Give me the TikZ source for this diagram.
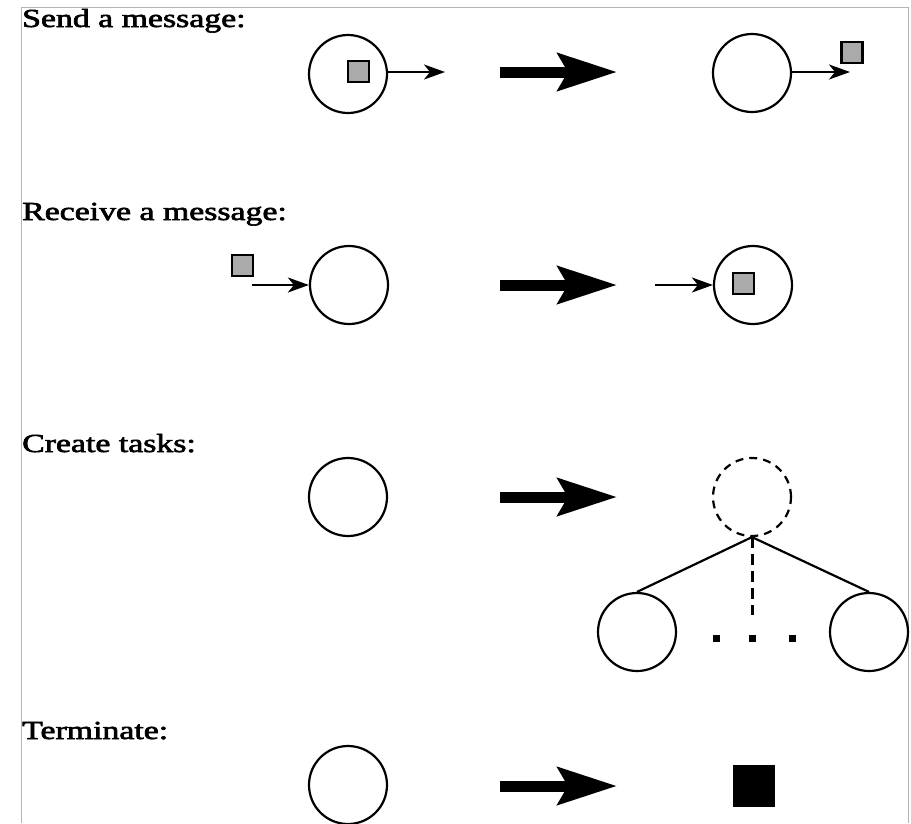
\documentclass[tikz,border=0pt]{standalone}
\usepackage{fontspec}
\newfontfamily\labfont[FakeBold=2.2]{Liberation Serif}
\usetikzlibrary{arrows.meta}
\definecolor{msggray}{HTML}{AAAAAA}
\definecolor{framegray}{HTML}{B4B4B4}
\tikzset{
  proc/.style={circle, draw, line width=2.2pt, minimum size=78pt, inner sep=0pt},
  dproc/.style={proc, dash pattern=on 8pt off 6pt},
  msg/.style={rectangle, draw, line width=2.2pt, fill=msggray, minimum size=21pt, inner sep=0pt},
  done/.style={rectangle, fill=black, minimum size=42pt, inner sep=0pt},
  dotmark/.style={rectangle, fill=black, minimum size=7pt, inner sep=0pt},
  sendarrow/.style={line width=2.2pt, -{Stealth[length=21pt, width=15pt, inset=6pt]}},
  bigarrow/.style={line width=11pt, -{Stealth[length=59pt, width=37pt, inset=10pt]}},
  spawn/.style={line width=2.2pt},
  title/.style={anchor=base west, inner sep=0pt, font=\labfont\fontsize{26}{30}\selectfont},
  frame/.style={draw=framegray, line width=1pt}
}
\begin{document}
\begin{tikzpicture}[x=1pt, y=-1pt]
\useasboundingbox (0,0) rectangle (911,823);
\draw[frame] (21,823) -- (21,7) -- (908,7) -- (908,823);

% Send a message
\node[title] (t1) at (22,27) {\scalebox{1.3}[1]{Send a message:}};
\node[proc] (s1) at (348,74) {};
\node[msg] (m1) at (358.5,71.5) {};
\coordinate (s1e) at (445,72);
\draw[sendarrow] (s1.east |- s1e) -- (s1e);
\coordinate (b1a) at (500,72);
\coordinate (b1b) at (617,72);
\draw[bigarrow] (b1a) -- (b1b);
\node[proc] (s2) at (752,73) {};
\coordinate (s2e) at (850,72);
\draw[sendarrow] (s2.east |- s2e) -- (s2e);
\node[msg] (m2) at (852,52.5) {};

% Receive a message
\node[title] (t2) at (22,220) {\scalebox{1.3}[1]{Receive a message:}};
\node[msg] (m3) at (242.5,265.5) {};
\coordinate (r1s) at (252,285);
\node[proc] (r1) at (349,285) {};
\draw[sendarrow] (r1s) -- (r1.west);
\coordinate (b2a) at (500,285);
\coordinate (b2b) at (617,285);
\draw[bigarrow] (b2a) -- (b2b);
\coordinate (r2s) at (655,285);
\node[proc] (r2) at (753,285) {};
\draw[sendarrow] (r2s) -- (r2.west);
\node[msg] (m4) at (743.5,283.5) {};

% Create tasks
\node[title] (t3) at (22,452) {\scalebox{1.3}[1]{Create tasks:}};
\node[proc] (c1) at (348,497) {};
\coordinate (b3a) at (500,497);
\coordinate (b3b) at (617,497);
\draw[bigarrow] (b3a) -- (b3b);
\node[dproc] (c2) at (752,497) {};
\node[proc] (k1) at (637,632) {};
\node[proc] (k2) at (869,632) {};
\draw[spawn] (c2.south) -- (k1.north);
\draw[spawn] (c2.south) -- (k2.north);
\coordinate (kd) at (752,615);
\draw[spawn, line width=3pt, dash pattern=on 11pt off 6pt] (c2.south) -- (kd);
\node[dotmark] (d1) at (716,638) {};
\node[dotmark] (d2) at (752,638) {};
\node[dotmark] (d3) at (792,638) {};

% Terminate
\node[title] (t4) at (22,739) {\scalebox{1.3}[1]{Terminate:}};
\node[proc] (e1) at (348,785) {};
\coordinate (b4a) at (500,786);
\coordinate (b4b) at (617,786);
\draw[bigarrow] (b4a) -- (b4b);
\node[done] (e2) at (754,786) {};
\end{tikzpicture}
\end{document}
